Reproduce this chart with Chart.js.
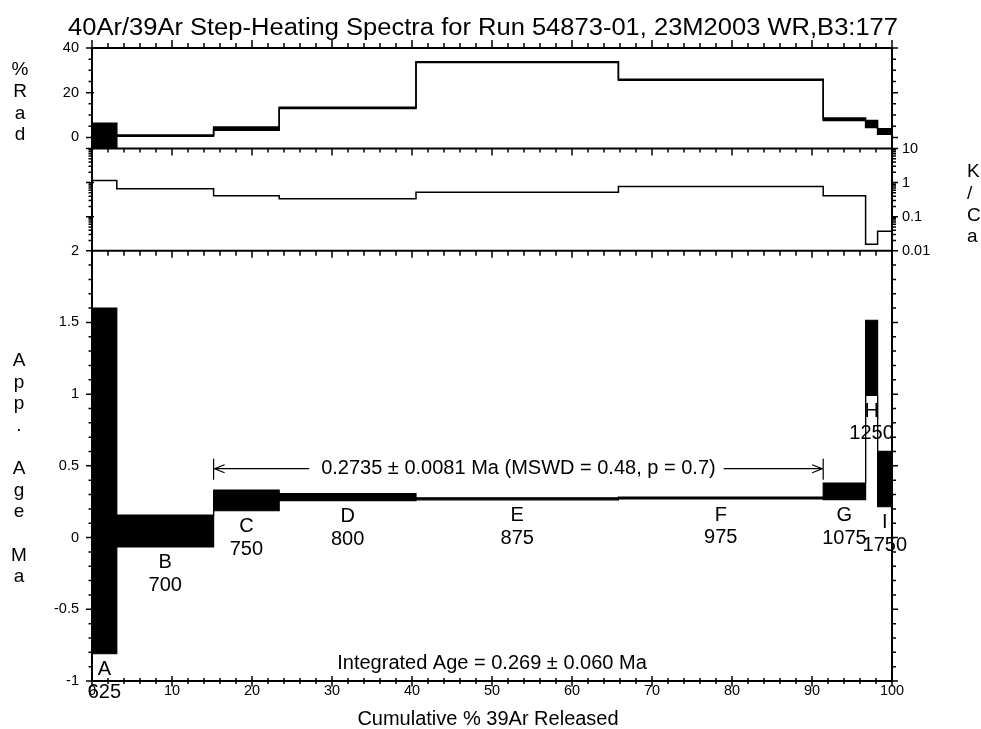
<!DOCTYPE html>
<html lang="en">
<head>
<meta charset="UTF-8">
<title>40Ar/39Ar Step-Heating Spectra</title>
<script src="https://cdn.jsdelivr.net/npm/chart.js"></script>
<style>
  body { margin: 0; background: #fff; }
</style>
</head>
<body>
<canvas id="spectra" width="981" height="729"></canvas>

<script>
// ---- data ----
const steps = ['A', 'B', 'C', 'D', 'E', 'F', 'G', 'H', 'I'];
const temps = [625, 700, 750, 800, 875, 975, 1075, 1250, 1750];
// cumulative % 39Ar at the end of each step
const cum39Ar = [3.1, 15.2, 23.4, 40.5, 65.8, 91.4, 96.7, 98.2, 100];

// apparent age (Ma) and its error
const age    = [0.395, 0.046, 0.259, 0.282, 0.270, 0.276, 0.322, 1.253, 0.408];
const ageErr = [1.205, 0.111, 0.072, 0.025, 0.007, 0.007, 0.058, 0.262, 0.193];

// % radiogenic
const rad    = [0.65, 0.8, 3.9, 13.2, 33.7, 25.8, 8.1, 6.0, 2.65];
const radErr = [5.65, 0.3, 0.7, 0.3, 0.2, 0.2, 0.6, 1.6, 1.2];

// K/Ca
const kca = [1.16, 0.66, 0.41, 0.335, 0.52, 0.77, 0.41, 0.0155, 0.037];

const radTicks = [0, 20, 40];
const ageTicks = [-1, -0.5, 0, 0.5, 1, 1.5, 2];
const kcaTicks = [10, 1, 0.1, 0.01];

const plateau = { first: 2, last: 5, age: '0.2735', err: '0.0081', mswd: '0.48', p: '0.7' };
const integrated = { age: '0.269', err: '0.060' };

const title = '40Ar/39Ar Step-Heating Spectra for Run 54873-01, 23M2003 WR,B3:177';

// ---- helpers ----
const FONT = "'Liberation Sans', Arial, Helvetica, sans-serif";
Chart.defaults.font.family = FONT;
Chart.defaults.color = '#000';

// one point at the start of every step, plus the end at 100 %
function stepPoints(vals, errs, sign) {
  const pts = vals.map((v, i) => ({ x: i ? cum39Ar[i - 1] : 0, y: v + sign * (errs ? errs[i] : 0) }));
  pts.push({ x: 100, y: pts[pts.length - 1].y });
  return pts;
}

function stepLine(data, axis, width, fill) {
  return {
    data: data, yAxisID: axis,
    stepped: true, pointRadius: 0, tension: 0,
    borderColor: '#000', borderWidth: width,
    backgroundColor: '#000', fill: fill
  };
}

function leftAxis(extra) {
  return Object.assign({
    position: 'left', stack: 'panels',
    grid: { display: false, drawTicks: false },
    border: { display: false },
    ticks: { padding: 13, font: { size: 14.5 }, callback: v => String(v) },
    afterFit: s => { s.width = 60; }
  }, extra);
}

// ---- frame, ticks and text ----
const annotate = {
  id: 'annotate',
  afterDraw(chart) {
    const ctx = chart.ctx;
    const a = chart.chartArea;
    const x = chart.scales.x, yRad = chart.scales.yRad, yK = chart.scales.yKCa, yAge = chart.scales.yAge;
    ctx.save();
    ctx.strokeStyle = '#000';
    ctx.fillStyle = '#000';

    // x ticks along every panel edge: [y, majorFrom, majorTo, minorFrom, minorTo]
    const rows = [[a.top, -8, 0, -5, 0], [yRad.bottom, 0, 7, 0, 4], [yK.bottom, 0, 7, 0, 5], [a.bottom, -5, 5.5, -3, 3]];
    ctx.lineWidth = 1.5;
    ctx.beginPath();
    for (let v = 0; v <= 100; v += 2) {
      const px = x.getPixelForValue(v);
      const major = v % 10 === 0;
      rows.forEach(r => {
        ctx.moveTo(px, r[0] + (major ? r[1] : r[3]));
        ctx.lineTo(px, r[0] + (major ? r[2] : r[4]));
      });
    }
    // y ticks both sides
    function yTick(scale, v, major) {
      const py = scale.getPixelForValue(v);
      ctx.moveTo(a.left - (major ? 6 : 3.5), py); ctx.lineTo(a.left + (major ? 2 : 1), py);
      ctx.moveTo(a.right - (major ? 1 : 0), py); ctx.lineTo(a.right + (major ? 6 : 4), py);
    }
    for (let k = -1; k <= 8; k++) yTick(yRad, k * 5, (k * 5) % 20 === 0);
    for (let d = -2; d <= 1; d++) {
      for (let m = 1; m <= (d === 1 ? 1 : 9); m++) yTick(yK, m * Math.pow(10, d), m === 1);
    }
    for (let k = -10; k <= 20; k++) yTick(yAge, k / 10, k % 5 === 0);
    ctx.stroke();

    // frame and panel borders
    ctx.lineWidth = 2;
    ctx.strokeRect(a.left, a.top, a.right - a.left, a.bottom - a.top);
    ctx.beginPath();
    [yRad.bottom, yK.bottom].forEach(py => { ctx.moveTo(a.left, py); ctx.lineTo(a.right, py); });
    ctx.stroke();

    // K/Ca labels on the right
    ctx.font = '14.5px ' + FONT;
    ctx.textAlign = 'left';
    ctx.textBaseline = 'middle';
    kcaTicks.forEach(v => ctx.fillText(String(v), a.right + 10, yK.getPixelForValue(v)));

    // step letters and temperatures under each box
    ctx.font = '20px ' + FONT;
    ctx.textAlign = 'center';
    steps.forEach((s, i) => {
      const cx = x.getPixelForValue(((i ? cum39Ar[i - 1] : 0) + cum39Ar[i]) / 2);
      const by = yAge.getPixelForValue(age[i] - ageErr[i]);
      ctx.fillText(s, cx, by + 16);
      ctx.fillText(String(temps[i]), cx, by + 38.5);
    });

    // plateau arrow
    const pL = x.getPixelForValue(cum39Ar[plateau.first - 1]);
    const pR = x.getPixelForValue(cum39Ar[plateau.last]);
    const py = yAge.getPixelForValue(0.48);
    const pText = plateau.age + ' \u00b1 ' + plateau.err + ' Ma (MSWD = ' + plateau.mswd + ', p = ' + plateau.p + ')';
    const w = ctx.measureText(pText).width;
    const mid = (pL + pR) / 2;
    ctx.fillText(pText, mid, py);
    ctx.lineWidth = 1.2;
    ctx.beginPath();
    ctx.moveTo(pL, py); ctx.lineTo(mid - w / 2 - 12, py);
    ctx.moveTo(mid + w / 2 + 8, py); ctx.lineTo(pR, py);
    ctx.moveTo(pL, py - 10); ctx.lineTo(pL, py + 11);
    ctx.moveTo(pR, py - 10); ctx.lineTo(pR, py + 11);
    ctx.moveTo(pL + 11, py - 4); ctx.lineTo(pL + 1, py); ctx.lineTo(pL + 11, py + 4);
    ctx.moveTo(pR - 11, py - 4); ctx.lineTo(pR - 1, py); ctx.lineTo(pR - 11, py + 4);
    ctx.stroke();

    // integrated age
    ctx.fillText('Integrated Age = ' + integrated.age + ' \u00b1 ' + integrated.err + ' Ma',
      x.getPixelForValue(50), yAge.getPixelForValue(-0.88));

    // x axis title
    ctx.fillText('Cumulative % 39Ar Released', 488, 719);

    // stacked-letter axis labels
    ctx.font = '19px ' + FONT;
    ['%', 'R', 'a', 'd'].forEach((c, i) => ctx.fillText(c, 20, 70 + i * 21.7));
    ['A', 'p', 'p', '.', '', 'A', 'g', 'e', '', 'M', 'a'].forEach((c, i) => ctx.fillText(c, 19, 361 + i * 21.6));
    ctx.textAlign = 'left';
    ['K', '/', 'C', 'a'].forEach((c, i) => ctx.fillText(c, 967, 172 + i * 21.7));

    // title, stretched to the width of the original
    ctx.font = '23px ' + FONT;
    ctx.textAlign = 'center';
    ctx.textBaseline = 'alphabetic';
    const tw = ctx.measureText(title).width;
    ctx.translate(483, 35);
    ctx.scale(830 / tw, 1);
    ctx.fillText(title, 0, 0);
    ctx.restore();
  }
};

const config = {
  type: 'line',
  data: {
    datasets: [
      stepLine(stepPoints(rad, radErr, -1), 'yRad', 1.5, false),
      stepLine(stepPoints(rad, radErr, 1), 'yRad', 1.5, '-1'),
      stepLine(stepPoints(kca, null, 0), 'yKCa', 1.5, false),
      stepLine(stepPoints(age, ageErr, -1), 'yAge', 1.2, false),
      stepLine(stepPoints(age, ageErr, 1), 'yAge', 1.2, '-1')
    ]
  },
  options: {
    responsive: false,
    animation: false,
    events: [],
    layout: { padding: { top: 48, left: 32, right: 89, bottom: 0 } },
    plugins: { legend: { display: false }, tooltip: { enabled: false } },
    scales: {
      x: {
        type: 'linear', min: 0, max: 100,
        grid: { display: false, drawTicks: false },
        border: { display: false },
        ticks: { stepSize: 10, padding: 1, maxRotation: 0, autoSkip: false, font: { size: 14.5 } },
        afterFit: s => { s.height = 48; }
      },
      yAge: leftAxis({
        type: 'linear', min: -1, max: 2, stackWeight: 430.5,
        afterBuildTicks: s => { s.ticks = ageTicks.map(v => ({ value: v })); }
      }),
      yKCa: leftAxis({
        type: 'logarithmic', min: 0.01, max: 10, stackWeight: 102.2,
        ticks: { display: false }
      }),
      yRad: leftAxis({
        type: 'linear', min: -5, max: 40, stackWeight: 100.6,
        afterBuildTicks: s => { s.ticks = radTicks.map(v => ({ value: v })); }
      })
    }
  },
  plugins: [annotate]
};

const spectraChart = new Chart(document.getElementById('spectra').getContext('2d'), config);
</script>
</body>
</html>
